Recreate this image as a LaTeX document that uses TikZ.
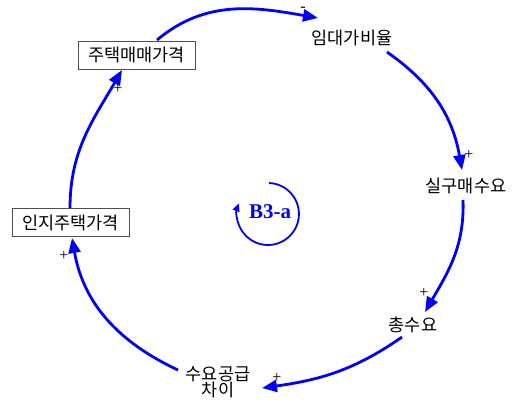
\documentclass[tikz,border=0pt]{standalone}
\usepackage{fontspec}
\setmainfont{Liberation Serif}
\newfontfamily\krfont{Noto Sans CJK KR}
\usetikzlibrary{arrows.meta}
\usepackage{xcolor}
\definecolor{loopBlue}{RGB}{0,0,255}
\definecolor{boxGray}{RGB}{80,80,80}

\begin{document}
\begin{tikzpicture}[x=1pt, y=1pt,
    var/.style={inner sep=2pt, align=center, font=\krfont\fontsize{17.5}{16}\selectfont},
    boxvar/.style={var, draw=boxGray, line width=0.8pt, minimum width=117pt, minimum height=28pt},
    link/.style={draw=loopBlue, line width=2.8pt, -{Triangle[length=15pt,width=12pt]}},
    pol/.style={font=\fontsize{16}{16}\selectfont, inner sep=0pt},
    >=Latex
]
\useasboundingbox (0,0) rectangle (518,-405);

% variables
\node[boxvar] (hp) at (136.5,-55) {주택매매가격};
\node[var] (imdae) at (352,-38) {임대가비율};
\node[var] (silgu) at (466,-186) {실구매수요};
\node[var] (chong) at (413,-325) {총수요};
\node[var] (gap) at (218,-382) {수요공급\\차이};
\node[boxvar] (inji) at (70.5,-222.5) {인지주택가격};

% loop name
\node[font=\bfseries\fontsize{21}{21}\selectfont, text=loopBlue] (lbl) at (270,-212) {B3-a};

% links
\draw[link] ([shift={(20.5,15)}]hp.center) to[out=40, in=170] ([shift={(-34,20)}]imdae.center);
\draw[link] ([shift={(35,-14)}]imdae.center) to[out=-35, in=100] ([shift={(-4,16)}]silgu.center);
\draw[link] ([shift={(-3,-14)}]silgu.center) to[out=-88, in=60] ([shift={(12,13)}]chong.center);
\draw[link] ([shift={(-11,-12)}]chong.center) to[out=-145, in=8] ([shift={(44,-6)}]gap.center);
\draw[link] ([shift={(-40,12)}]gap.center) to[out=155, in=-80] ([shift={(1.5,-15.5)}]inji.center);
\draw[link] ([shift={(-0.5,14.5)}]inji.center) to[out=90, in=-120] ([shift={(-14.5,-15)}]hp.center);

% loop arrow
\draw[draw=loopBlue, line width=1.8pt, -{Triangle[length=8pt,width=7pt]}]
  ([shift={(-1,29)}]lbl.center) arc[start angle=88, end angle=-200, radius=31];

% polarities
\node[pol] (p1) at (303,-9) {-};
\node[pol] (p2) at (469,-155) {+};
\node[pol] (p3) at (424,-293) {+};
\node[pol] (p4) at (277,-378) {+};
\node[pol] (p5) at (64,-256) {+};
\node[pol] (p6) at (118,-89) {+};
\end{tikzpicture}
\end{document}
